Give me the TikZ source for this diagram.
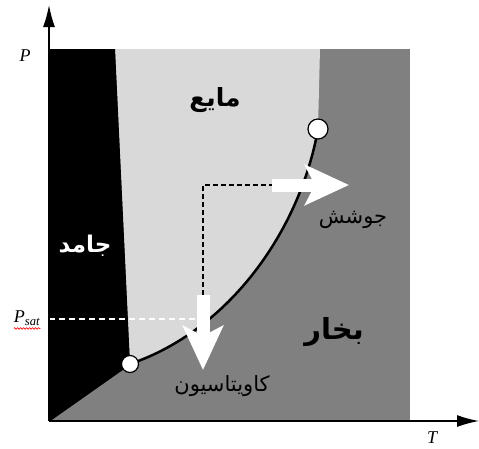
\documentclass[tikz,border=0pt]{standalone}
\usepackage{fontspec}
\setmainfont{Liberation Serif}
\newfontfamily\fafont[Script=Arabic]{DejaVu Sans}
\TeXXeTstate=1
\usetikzlibrary{arrows.meta, positioning, calc, decorations.pathmorphing}
\definecolor{liquidgray}{RGB}{217,217,217}
\definecolor{vaporgray}{RGB}{128,128,128}

\begin{document}
\begin{tikzpicture}[x=1pt, y=-1pt,
    axislbl/.style={font=\fontsize{18}{18}\selectfont\itshape, inner sep=0pt},
    phase/.style={font=\fafont\fontsize{21}{23}\selectfont, inner sep=0pt},
    pnt/.style={circle, draw, fill=white, line width=1.2pt, inner sep=0pt},
    bigarrow/.style={white, line width=13pt, -{Stealth[length=44pt, width=40pt, inset=10pt]}}]
    \useasboundingbox (0,0) rectangle (479,448);
    \coordinate (O) at (49,421);
    \coordinate (ytop) at (49,5);
    \coordinate (xend) at (479,421);
    \coordinate (tp) at (130,364);
    \coordinate (cp) at (318,129);
    \coordinate (sat) at (197,319);
    \coordinate (corner) at (203,185);
    \coordinate (boil) at (272,185);
    \coordinate (cav) at (203,295);
    % regions
    \fill[vaporgray] (49,49) rectangle (410,421);
    \fill[liquidgray] (115,49) -- (320,49) -- (cp) .. controls (300,230) and (230,330) .. (tp) -- cycle;
    \fill[black] (49,49) -- (115,49) -- (tp) -- (O) -- cycle;
    \draw[line width=1.5pt] (O) -- (tp);
    \draw[line width=2.5pt] (tp) .. controls (230,330) and (300,230) .. (cp);
    \draw[white, line width=1.5pt, dash pattern=on 6pt off 4pt] (49,319) -- (sat);
    \draw[line width=1.2pt, dash pattern=on 5pt off 3pt] (cav) -- (corner) -- (boil);
    \draw[bigarrow] (boil) -- ++(77,0);
    \draw[bigarrow] (cav) -- ++(0,75);
    \node[pnt, minimum size=17pt] (triple) at (tp) {};
    \node[pnt, minimum size=20pt] (crit) at (cp) {};
    % axes
    \draw[line width=1.5pt, -{Latex[length=22pt, width=12pt]}] (O) -- (ytop);
    \draw[line width=1.5pt, -{Latex[length=22pt, width=12pt]}] (O) -- (xend);
    \node[axislbl] (plbl) at (25,56) {P};
    \node[axislbl] (tlbl) at (432,438) {T};
    \node[axislbl] (psat) at (27,318) {P\textsubscript{sat}};
    \draw[red, line width=0.6pt, decorate, decoration={snake, amplitude=0.8pt, segment length=3pt}]
        ([yshift=-3pt]psat.south west) -- ([yshift=-3pt]psat.south east);
    % labels
    \node[phase, font=\fafont\bfseries\fontsize{23}{25}\selectfont, white] (solid) at (85,246) {\beginR جامد\endR};
    \node[phase, font=\fafont\bfseries\fontsize{25}{27}\selectfont] (liquid) at (215,100) {\beginR مایع\endR};
    \node[phase, font=\fafont\bfseries\fontsize{29}{31}\selectfont] (vapor) at (334,332) {\beginR بخار\endR};
    \node[phase] (boiling) at (353,220) {\beginR جوشش\endR};
    \node[phase] (cavit) at (222,386) {\beginR کاویتاسیون\endR};
\end{tikzpicture}
\end{document}
